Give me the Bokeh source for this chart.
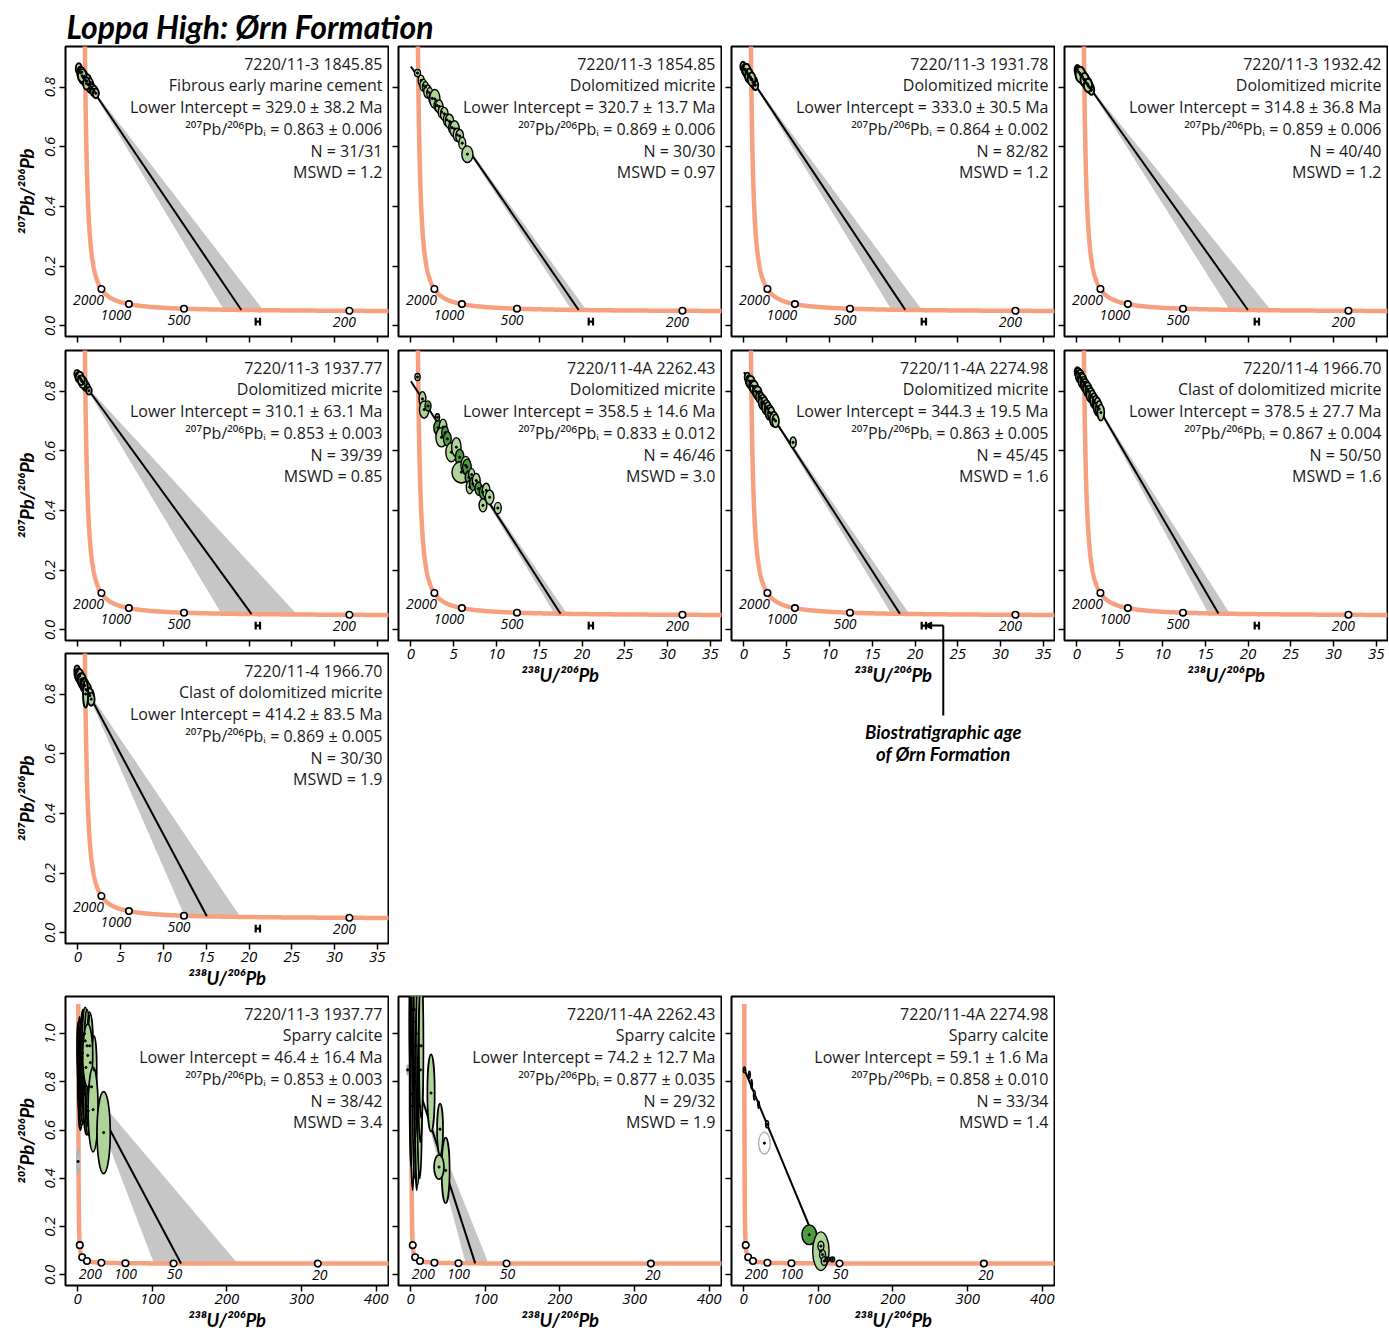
import numpy as np
from bokeh.plotting import figure
from bokeh.layouts import row, column
from bokeh.models import FixedTicker, PrintfTickFormatter, Range1d, Arrow, NormalHead, ColumnDataSource
from bokeh.core.properties import value
from bokeh.embed import file_html
from bokeh.resources import INLINE

# ---------------- constants of the Tera-Wasserburg concordia ----------------
L238 = 1.55125e-4   # 1/Ma
L235 = 9.8485e-4    # 1/Ma
U_RATIO = 137.818

def tw_x(t):
    t = np.asarray(t, dtype=float)
    return 1.0 / (np.exp(L238 * t) - 1.0)

def tw_y(t):
    t = np.asarray(t, dtype=float)
    return (np.exp(L235 * t) - 1.0) / (np.exp(L238 * t) - 1.0) / U_RATIO

# ---------------- text ----------------
TITLE = "Loppa High: Ørn Formation"
X_TITLE = "²³⁸U/²⁰⁶Pb"
Y_TITLE = "²⁰⁷Pb/²⁰⁶Pb"
BIO_TEXT = ["Biostratigraphic age", "of Ørn Formation"]

TOP_XTICKS = [0, 5, 10, 15, 20, 25, 30, 35]
TOP_YTICKS = [0.0, 0.2, 0.4, 0.6, 0.8]
BOT_XTICKS = [0, 100, 200, 300, 400]
BOT_YTICKS = [0.0, 0.2, 0.4, 0.6, 0.8, 1.0]

TOP_MARKER_AGES = [2000, 1000, 500, 200]
TOP_MARKER_LABELS = ["2000", "1000", "500", "200"]
BOT_MARKER_AGES = [2000, 1000, 500, 200, 100, 50, 20]
BOT_MARKER_LABELS = ["", "", "", "200", "100", "50", "20"]
BIO_AGE_RANGE = [296, 303]   # Ma, biostratigraphic age of the formation
BIO_Y = 0.014
CONCORDIA_AGE_MIN = 5
CONCORDIA_AGE_MAX = 5400

# ---------------- panel values ----------------
P1_INFO = ["7220/11-3 1845.85", "Fibrous early marine cement", "Lower Intercept = 329.0 ± 38.2 Ma",
           "²⁰⁷Pb/²⁰⁶Pbᵢ = 0.863 ± 0.006", "N = 31/31", "MSWD = 1.2"]
P1_AGE, P1_ERR, P1_PB0 = 329.0, 38.2, 0.863
P1_X = [0.10, 0.30, 0.45, 0.60, 0.75, 0.90, 1.05, 1.20, 1.35, 1.50, 1.70, 1.90, 2.10, 0.50, 1.00]
P1_Y = [0.862, 0.848, 0.850, 0.832, 0.836, 0.822, 0.820, 0.808, 0.810, 0.798, 0.794, 0.786, 0.779, 0.838, 0.812]
P1_SX = [0.35, 0.40, 0.38, 0.45, 0.35, 0.42, 0.50, 0.38, 0.42, 0.45, 0.38, 0.42, 0.35, 0.50, 0.38]
P1_SY = [0.018, 0.020, 0.016, 0.022, 0.018, 0.020, 0.024, 0.018, 0.020, 0.018, 0.016, 0.018, 0.016, 0.022, 0.020]

P2_INFO = ["7220/11-3 1854.85", "Dolomitized micrite", "Lower Intercept = 320.7 ± 13.7 Ma",
           "²⁰⁷Pb/²⁰⁶Pbᵢ = 0.869 ± 0.006", "N = 30/30", "MSWD = 0.97"]
P2_AGE, P2_ERR, P2_PB0 = 320.7, 13.7, 0.869
P2_X = [0.77, 1.20, 1.45, 1.70, 1.95, 2.20, 2.50, 2.80, 3.05, 3.30, 3.60, 3.90, 4.20, 4.50, 4.80, 5.10, 5.40, 5.70, 6.00, 6.60]
P2_Y = [0.847, 0.822, 0.806, 0.800, 0.785, 0.780, 0.762, 0.760, 0.738, 0.735, 0.716, 0.710, 0.690, 0.685, 0.664, 0.660, 0.640, 0.636, 0.612, 0.575]
P2_SX = [0.35, 0.35, 0.40, 0.35, 0.45, 0.35, 0.40, 0.60, 0.35, 0.45, 0.40, 0.45, 0.40, 0.50, 0.40, 0.55, 0.45, 0.45, 0.40, 0.65]
P2_SY = [0.012, 0.018, 0.020, 0.018, 0.022, 0.018, 0.020, 0.032, 0.018, 0.022, 0.020, 0.022, 0.020, 0.024, 0.020, 0.027, 0.022, 0.022, 0.020, 0.028]

P3_INFO = ["7220/11-3 1931.78", "Dolomitized micrite", "Lower Intercept = 333.0 ± 30.5 Ma",
           "²⁰⁷Pb/²⁰⁶Pbᵢ = 0.864 ± 0.002", "N = 82/82", "MSWD = 1.2"]
P3_AGE, P3_ERR, P3_PB0 = 333.0, 30.5, 0.864
P3_X = [-0.10, 0.05, 0.15, 0.25, 0.35, 0.45, 0.55, 0.65, 0.75, 0.85, 0.95, 1.05, 1.15, 1.25, 1.35, 0.30, 0.60, 0.90]
P3_Y = [0.869, 0.860, 0.859, 0.851, 0.850, 0.843, 0.842, 0.834, 0.833, 0.825, 0.824, 0.816, 0.817, 0.808, 0.806, 0.856, 0.838, 0.827]
P3_SX = [0.32, 0.25, 0.40, 0.32, 0.40, 0.32, 0.45, 0.32, 0.40, 0.32, 0.40, 0.32, 0.40, 0.32, 0.32, 0.45, 0.45, 0.45]
P3_SY = [0.016, 0.013, 0.019, 0.016, 0.019, 0.016, 0.022, 0.016, 0.019, 0.016, 0.019, 0.016, 0.019, 0.016, 0.016, 0.022, 0.024, 0.022]

P4_INFO = ["7220/11-3 1932.42", "Dolomitized micrite", "Lower Intercept = 314.8 ± 36.8 Ma",
           "²⁰⁷Pb/²⁰⁶Pbᵢ = 0.859 ± 0.006", "N = 40/40", "MSWD = 1.2"]
P4_AGE, P4_ERR, P4_PB0 = 314.8, 36.8, 0.859
P4_X = [0.05, 0.20, 0.35, 0.50, 0.65, 0.80, 0.95, 1.10, 1.25, 1.40, 1.55, 1.70, 0.40, 0.90, 1.30]
P4_Y = [0.858, 0.850, 0.846, 0.838, 0.834, 0.826, 0.822, 0.814, 0.810, 0.801, 0.797, 0.790, 0.842, 0.825, 0.806]
P4_SX = [0.32, 0.40, 0.48, 0.40, 0.48, 0.40, 0.48, 0.40, 0.48, 0.40, 0.40, 0.32, 0.55, 0.48, 0.48]
P4_SY = [0.016, 0.019, 0.022, 0.019, 0.024, 0.019, 0.022, 0.019, 0.022, 0.019, 0.019, 0.016, 0.026, 0.022, 0.022]

P5_INFO = ["7220/11-3 1937.77", "Dolomitized micrite", "Lower Intercept = 310.1 ± 63.1 Ma",
           "²⁰⁷Pb/²⁰⁶Pbᵢ = 0.853 ± 0.003", "N = 39/39", "MSWD = 0.85"]
P5_AGE, P5_ERR, P5_PB0 = 310.1, 63.1, 0.853
P5_X = [-0.10, 0.10, 0.30, 0.50, 0.70, 0.90, 1.10, 1.30, 0.20, 0.60, 0.40]
P5_Y = [0.858, 0.848, 0.842, 0.832, 0.826, 0.817, 0.811, 0.801, 0.846, 0.829, 0.836]
P5_SX = [0.32, 0.40, 0.32, 0.40, 0.32, 0.40, 0.32, 0.32, 0.45, 0.45, 0.40]
P5_SY = [0.013, 0.016, 0.013, 0.016, 0.013, 0.016, 0.013, 0.013, 0.019, 0.019, 0.016]

P6_INFO = ["7220/11-4A 2262.43", "Dolomitized micrite", "Lower Intercept = 358.5 ± 14.6 Ma",
           "²⁰⁷Pb/²⁰⁶Pbᵢ = 0.833 ± 0.012", "N = 46/46", "MSWD = 3.0"]
P6_AGE, P6_ERR, P6_PB0 = 358.5, 14.6, 0.833
P6_X = [0.77, 1.35, 1.55, 2.00, 3.10, 3.18, 3.76, 3.57, 4.00, 4.26, 4.73, 5.31, 5.70, 5.90, 6.40, 6.55,
        6.80, 6.87, 7.10, 7.25, 7.64, 7.90, 8.40, 8.80, 9.20, 8.42, 10.16]
P6_Y = [0.847, 0.774, 0.738, 0.750, 0.712, 0.677, 0.679, 0.645, 0.660, 0.640, 0.595, 0.612, 0.578, 0.528, 0.551, 0.545,
        0.511, 0.478, 0.520, 0.489, 0.500, 0.473, 0.461, 0.467, 0.444, 0.417, 0.408]
P6_SX = [0.30, 0.40, 0.55, 0.35, 0.25, 0.50, 0.45, 0.65, 0.40, 0.45, 0.65, 0.55, 0.50, 1.10, 0.55, 0.50,
         0.45, 0.40, 0.35, 0.40, 0.45, 0.40, 0.40, 0.45, 0.50, 0.45, 0.40]
P6_SY = [0.012, 0.024, 0.029, 0.017, 0.012, 0.024, 0.027, 0.032, 0.022, 0.024, 0.032, 0.032, 0.027, 0.036, 0.030, 0.027,
         0.022, 0.022, 0.020, 0.022, 0.024, 0.022, 0.022, 0.024, 0.024, 0.022, 0.019]
P6_DARK = [3, 5, 8, 9, 12, 15, 16, 19, 21, 22]

P7_INFO = ["7220/11-4A 2274.98", "Dolomitized micrite", "Lower Intercept = 344.3 ± 19.5 Ma",
           "²⁰⁷Pb/²⁰⁶Pbᵢ = 0.863 ± 0.005", "N = 45/45", "MSWD = 1.6"]
P7_AGE, P7_ERR, P7_PB0 = 344.3, 19.5, 0.863
P7_X = [0.40, 0.60, 0.80, 1.00, 1.20, 1.40, 1.60, 1.80, 2.00, 2.20, 2.40, 2.60, 2.80, 3.00, 3.20, 3.50, 3.70, 5.75]
P7_Y = [0.846, 0.834, 0.829, 0.817, 0.812, 0.799, 0.794, 0.781, 0.776, 0.763, 0.758, 0.746, 0.741, 0.728, 0.724, 0.706, 0.700, 0.628]
P7_SX = [0.32, 0.40, 0.48, 0.40, 0.48, 0.40, 0.48, 0.40, 0.32, 0.48, 0.40, 0.48, 0.40, 0.48, 0.40, 0.48, 0.40, 0.35]
P7_SY = [0.016, 0.019, 0.022, 0.019, 0.022, 0.019, 0.022, 0.019, 0.019, 0.025, 0.022, 0.025, 0.022, 0.025, 0.022, 0.025, 0.022, 0.018]

P8_INFO = ["7220/11-4 1966.70", "Clast of dolomitized micrite", "Lower Intercept = 378.5 ± 27.7 Ma",
           "²⁰⁷Pb/²⁰⁶Pbᵢ = 0.867 ± 0.004", "N = 50/50", "MSWD = 1.6"]
P8_AGE, P8_ERR, P8_PB0 = 378.5, 27.7, 0.867
P8_X = [0.05, 0.20, 0.35, 0.50, 0.65, 0.80, 0.95, 1.10, 1.25, 1.40, 1.60, 1.80, 2.00, 2.20, 2.40, 2.60, 2.80]
P8_Y = [0.864, 0.858, 0.849, 0.843, 0.834, 0.829, 0.819, 0.814, 0.805, 0.799, 0.787, 0.780, 0.768, 0.760, 0.748, 0.740, 0.728]
P8_SX = [0.32, 0.40, 0.48, 0.40, 0.48, 0.40, 0.48, 0.40, 0.48, 0.40, 0.48, 0.40, 0.45, 0.40, 0.45, 0.40, 0.40]
P8_SY = [0.016, 0.019, 0.022, 0.019, 0.024, 0.019, 0.022, 0.019, 0.024, 0.019, 0.024, 0.022, 0.025, 0.025, 0.030, 0.027, 0.027]

P9_INFO = ["7220/11-4 1966.70", "Clast of dolomitized micrite", "Lower Intercept = 414.2 ± 83.5 Ma",
           "²⁰⁷Pb/²⁰⁶Pbᵢ = 0.869 ± 0.005", "N = 30/30", "MSWD = 1.9"]
P9_AGE, P9_ERR, P9_PB0 = 414.2, 83.5, 0.869
P9_X = [-0.10, 0.05, 0.20, 0.35, 0.50, 0.65, 0.80, 0.95, 1.10, 1.25, 1.40, 1.55, 0.90]
P9_Y = [0.876, 0.864, 0.860, 0.848, 0.844, 0.832, 0.828, 0.815, 0.812, 0.799, 0.795, 0.783, 0.800]
P9_SX = [0.32, 0.40, 0.45, 0.40, 0.45, 0.40, 0.45, 0.40, 0.45, 0.40, 0.45, 0.40, 0.30]
P9_SY = [0.020, 0.022, 0.024, 0.022, 0.026, 0.022, 0.024, 0.022, 0.026, 0.022, 0.024, 0.022, 0.045]

P10_INFO = ["7220/11-3 1937.77", "Sparry calcite", "Lower Intercept = 46.4 ± 16.4 Ma",
            "²⁰⁷Pb/²⁰⁶Pbᵢ = 0.853 ± 0.003", "N = 38/42", "MSWD = 3.4"]
P10_AGE, P10_ERR, P10_PB0 = 46.4, 16.4, 0.853
P10_X = [0.5, 1.0, 1.5, 2.0, 2.5, 3.0, 3.5, 4.0, 4.5, 5.0, 6.0, 6.5, 7.0, 8.0, 9.0, 9.5, 10.0, 11.0, 12.0,
         12.5, 14.0, 15.0, 16.0, 17.0, 18.5, 22.0, 13.4, 20.6, 34.7]
P10_Y = [0.47, 0.95, 0.80, 0.88, 0.95, 0.80, 0.70, 0.84, 0.92, 0.72, 0.92, 0.78, 0.98, 0.80, 1.00, 0.75, 0.97,
         0.86, 0.70, 0.95, 0.68, 0.78, 0.95, 0.88, 0.78, 0.85, 0.91, 0.685, 0.59]
P10_SX = [1.5, 2.0, 1.5, 2.5, 2.0, 2.5, 2.5, 3.0, 2.5, 3.0, 3.0, 3.0, 3.0, 3.5, 3.0, 3.0, 4.0, 3.5, 4.0,
          3.5, 3.5, 4.0, 3.5, 4.0, 4.0, 3.5, 6.7, 6.7, 8.9]
P10_SY = [0.05, 0.10, 0.12, 0.09, 0.12, 0.10, 0.10, 0.10, 0.14, 0.10, 0.13, 0.15, 0.12, 0.12, 0.10, 0.13, 0.14,
          0.16, 0.12, 0.15, 0.10, 0.17, 0.14, 0.20, 0.15, 0.14, 0.13, 0.175, 0.17]
P10_REJECTED = [0]

P11_INFO = ["7220/11-4A 2262.43", "Sparry calcite", "Lower Intercept = 74.2 ± 12.7 Ma",
            "²⁰⁷Pb/²⁰⁶Pbᵢ = 0.877 ± 0.035", "N = 29/32", "MSWD = 1.9"]
P11_AGE, P11_ERR, P11_PB0 = 74.2, 12.7, 0.877
P11_X = [-4.0, 3.5, 7.5, 11.5, 0.5, 1.5, 2.0, 2.5, 4.5, 5.5, 6.5, 8.0, 9.0, 10.0, 12.0, 13.0, 14.0,
         27.2, 39.3, 46.8, 37.9]
P11_Y = [0.85, 1.05, 1.00, 0.95, 0.75, 0.95, 1.10, 0.70, 1.10, 0.80, 0.95, 0.65, 0.75, 0.90, 0.70, 0.85, 0.95,
         0.754, 0.604, 0.433, 0.447]
P11_SX = [1.0, 5.5, 5.5, 5.0, 2.0, 2.5, 2.5, 2.5, 3.0, 3.0, 2.5, 2.5, 3.5, 3.0, 3.0, 3.0, 3.0,
          4.9, 4.0, 5.3, 6.7]
P11_SY = [0.02, 0.35, 0.30, 0.32, 0.30, 0.35, 0.20, 0.35, 0.20, 0.40, 0.40, 0.30, 0.38, 0.35, 0.30, 0.30, 0.30,
          0.16, 0.106, 0.136, 0.05]
P11_REJECTED = [0]

P12_INFO = ["7220/11-4A 2274.98", "Sparry calcite", "Lower Intercept = 59.1 ± 1.6 Ma",
            "²⁰⁷Pb/²⁰⁶Pbᵢ = 0.858 ± 0.010", "N = 33/34", "MSWD = 1.4"]
P12_AGE, P12_ERR, P12_PB0 = 59.1, 1.6, 0.858
P12_X = [0.9, 7.6, 10.5, 14.3, 20.0, 31.3, 27.7, 87.8, 103.4, 103.4, 105.6, 107.8, 112.0, 118.9]
P12_Y = [0.850, 0.830, 0.790, 0.745, 0.705, 0.624, 0.546, 0.166, 0.098, 0.119, 0.084, 0.057, 0.064, 0.064]
P12_SX = [1.5, 1.2, 1.0, 1.2, 1.0, 2.0, 7.8, 9.8, 11.0, 4.0, 4.0, 4.0, 3.0, 3.0]
P12_SY = [0.012, 0.015, 0.020, 0.020, 0.015, 0.015, 0.045, 0.041, 0.080, 0.020, 0.020, 0.018, 0.010, 0.010]
P12_REJECTED = [6]
P12_DARK = [7]

# ---------------- styling ----------------
FW = 323
FH = 290
FH4 = 289
TOP_XR = (-1.45, 36.3)
TOP_YR = (-0.036, 0.936)
BOT_XR = (-16.4, 416.5)
BOT_YR = (-0.0444, 1.1544)
CONC_COLOR = "#f7a080"
BAND_COLOR = "#c6c6c6"
GREEN = "#aed49a"
DARK_GREEN = "#4f9a40"
INFO_FONT = "Open Sans"
TICK_FONT = "Open Sans"
TITLE_FONT = "Lato"
INFO_OFFSETS = [17, 38, 60, 82, 104, 125]
TOP_LABEL_DX = [-13, -13, -5, -5]
BOT_LABEL_DX = [0, 0, 0, -11, 0, 1, 2]
LABEL_DY = 11


def style_axes(p, xticks, yticks, show_x, show_y):
    p.grid.visible = False
    p.outline_line_color = "black"
    p.outline_line_width = 2
    p.outline_line_alpha = 1
    for ax in (p.xaxis[0], p.yaxis[0]):
        ax.axis_line_color = None
        ax.major_tick_in = 0
        ax.major_tick_out = 6
        ax.major_tick_line_width = 1.5
        ax.major_tick_line_color = "black"
        ax.minor_tick_line_color = None
        ax.major_label_text_font = TICK_FONT
        ax.major_label_text_font_style = "italic"
        ax.major_label_text_font_size = "15px"
        ax.major_label_text_color = "black"
        ax.axis_label_text_font = TITLE_FONT
        ax.axis_label_text_font_style = "bold italic"
        ax.axis_label_text_font_size = "18.5px"
        ax.axis_label_text_color = "black"
    p.xaxis.ticker = FixedTicker(ticks=xticks)
    p.yaxis.ticker = FixedTicker(ticks=yticks)
    p.yaxis.formatter = PrintfTickFormatter(format="%.1f")
    p.yaxis.major_label_orientation = "vertical"
    if show_x:
        p.xaxis.major_label_standoff = 2
        p.xaxis.axis_label = X_TITLE
        p.xaxis.axis_label_standoff = 2
    else:
        p.xaxis.major_label_text_color = None
        p.xaxis.major_label_standoff = 0
    if show_y:
        p.yaxis.major_label_standoff = 4
        p.yaxis.axis_label = Y_TITLE
        p.yaxis.axis_label_standoff = 5
    else:
        p.yaxis.major_label_text_color = None
        p.yaxis.major_label_standoff = 0


def make_panel(info, age, err, pb0, xs, ys, sxs, sys_, kind, show_x, show_y, bottom,
               dark=(), rejected=(), lw=1.4):
    top = kind == "top"
    xr = TOP_XR if top else BOT_XR
    yr = TOP_YR if top else BOT_YR
    fh = FH if top else FH4
    left = 65 if show_y else 9
    p = figure(frame_width=FW, frame_height=fh, x_range=Range1d(*xr), y_range=Range1d(*yr),
               min_border_left=left, min_border_right=1, min_border_top=1, min_border_bottom=bottom,
               toolbar_location=None, output_backend="svg",
               background_fill_color="white", border_fill_color="white")
    style_axes(p, TOP_XTICKS if top else BOT_XTICKS, TOP_YTICKS if top else BOT_YTICKS, show_x, show_y)

    xs = np.array(xs, dtype=float)
    ys = np.array(ys, dtype=float)
    keep = np.array([i not in rejected for i in range(len(xs))])

    # discordia line and its error envelope
    xt, yt = float(tw_x(age)), float(tw_y(age))
    slope = (yt - pb0) / xt
    xc = float(xs[keep].mean())
    yc = pb0 + slope * xc
    xa, ya = float(tw_x(age + err)), float(tw_y(age + err))
    xb, yb = float(tw_x(age - err)), float(tw_y(age - err))
    p.patch(x=[xc, xa, xb], y=[yc, ya, yb], fill_color=BAND_COLOR, line_color=None)

    # concordia
    ages = np.geomspace(CONCORDIA_AGE_MIN, CONCORDIA_AGE_MAX, 900)
    p.line(tw_x(ages), tw_y(ages), line_color=CONC_COLOR, line_width=4.5)

    p.line([0, xt], [pb0, yt], line_color="black", line_width=2)

    # data ellipses
    fills = []
    lines = []
    for i in range(len(xs)):
        if i in rejected:
            fills.append("white"); lines.append("#b0b0b0")
        elif i in dark:
            fills.append(DARK_GREEN); lines.append("black")
        else:
            fills.append(GREEN); lines.append("black")
    src = ColumnDataSource(dict(x=xs, y=ys, w=2 * np.array(sxs), h=2 * np.array(sys_), f=fills, l=lines))
    p.ellipse("x", "y", width="w", height="h", source=src, fill_color="f", line_color="l", line_width=lw)
    p.scatter("x", "y", source=src, size=2.2, color="black")

    # concordia age markers
    m_ages = TOP_MARKER_AGES if top else BOT_MARKER_AGES
    m_labels = TOP_MARKER_LABELS if top else BOT_MARKER_LABELS
    m_dx = TOP_LABEL_DX if top else BOT_LABEL_DX
    mx, my = tw_x(m_ages), tw_y(m_ages)
    p.scatter(mx, my, size=6.5, marker="circle", fill_color="white", line_color="black", line_width=1.6)
    idx = [i for i, s in enumerate(m_labels) if s]
    p.text(x=[mx[i] for i in idx], y=[my[i] for i in idx], text=[m_labels[i] for i in idx],
           x_offset=[m_dx[i] for i in idx], y_offset=LABEL_DY,
           text_align="center", text_baseline="middle", text_font=value(TICK_FONT),
           text_font_style="italic", text_font_size="14px", text_color="black")

    # biostratigraphic age bracket
    if top:
        bx = tw_x(BIO_AGE_RANGE)
        hh = 0.013
        p.segment(x0=[bx[0], bx[1], bx[0]], y0=[BIO_Y - hh, BIO_Y - hh, BIO_Y],
                  x1=[bx[0], bx[1], bx[1]], y1=[BIO_Y + hh, BIO_Y + hh, BIO_Y],
                  line_color="black", line_width=2.2)

    # information text
    tx = xr[1] - 6 * (xr[1] - xr[0]) / FW
    ty = [yr[1] - o * (yr[1] - yr[0]) / fh for o in INFO_OFFSETS]
    p.text(x=[tx] * len(info), y=ty, text=info, text_align="right", text_baseline="middle",
           text_font=value(INFO_FONT), text_font_size="16px", text_color="#1a1a1a")
    return p


p1 = make_panel(P1_INFO, P1_AGE, P1_ERR, P1_PB0, P1_X, P1_Y, P1_SX, P1_SY, "top", False, True, 13, lw=1.9)
p2 = make_panel(P2_INFO, P2_AGE, P2_ERR, P2_PB0, P2_X, P2_Y, P2_SX, P2_SY, "top", False, False, 13)
p3 = make_panel(P3_INFO, P3_AGE, P3_ERR, P3_PB0, P3_X, P3_Y, P3_SX, P3_SY, "top", False, False, 13, lw=1.9)
p4 = make_panel(P4_INFO, P4_AGE, P4_ERR, P4_PB0, P4_X, P4_Y, P4_SX, P4_SY, "top", False, False, 13, lw=1.9)
p5 = make_panel(P5_INFO, P5_AGE, P5_ERR, P5_PB0, P5_X, P5_Y, P5_SX, P5_SY, "top", False, True, 12, lw=1.9)
p6 = make_panel(P6_INFO, P6_AGE, P6_ERR, P6_PB0, P6_X, P6_Y, P6_SX, P6_SY, "top", True, False, 52, dark=P6_DARK)
p7 = make_panel(P7_INFO, P7_AGE, P7_ERR, P7_PB0, P7_X, P7_Y, P7_SX, P7_SY, "top", True, False, 52, lw=1.7)
p8 = make_panel(P8_INFO, P8_AGE, P8_ERR, P8_PB0, P8_X, P8_Y, P8_SX, P8_SY, "top", True, False, 52, lw=1.7)
p9 = make_panel(P9_INFO, P9_AGE, P9_ERR, P9_PB0, P9_X, P9_Y, P9_SX, P9_SY, "top", True, True, 52, lw=1.9)
p10 = make_panel(P10_INFO, P10_AGE, P10_ERR, P10_PB0, P10_X, P10_Y, P10_SX, P10_SY, "bottom", True, True, 45,
                 rejected=P10_REJECTED, lw=1.7)
p11 = make_panel(P11_INFO, P11_AGE, P11_ERR, P11_PB0, P11_X, P11_Y, P11_SX, P11_SY, "bottom", True, False, 45,
                 rejected=P11_REJECTED, lw=1.7)
p12 = make_panel(P12_INFO, P12_AGE, P12_ERR, P12_PB0, P12_X, P12_Y, P12_SX, P12_SY, "bottom", True, False, 45,
                 dark=P12_DARK, rejected=P12_REJECTED)

# note with arrow pointing at the biostratigraphic age (overlaid below panel 7)
NOTE_H = 152
NOTE_SHIFT = 77
note = figure(frame_width=FW, frame_height=NOTE_H, x_range=p7.x_range, y_range=Range1d(0, NOTE_H),
              min_border_left=9, min_border_right=1, min_border_top=0, min_border_bottom=0,
              toolbar_location=None, output_backend="svg", x_axis_location=None, y_axis_location=None,
              background_fill_color=None, border_fill_color=None, margin=(-NOTE_SHIFT, 0, 0, 0))
note.outline_line_color = None
note.grid.visible = False
bx7 = tw_x(BIO_AGE_RANGE)
arrow_x = 23.3
arrow_top = NOTE_H - 10
note.segment(x0=[arrow_x], y0=[arrow_top], x1=[arrow_x], y1=[52], line_color="black", line_width=2)
note.add_layout(Arrow(end=NormalHead(size=7, fill_color="black", line_color="black"),
                      x_start=arrow_x, y_start=arrow_top, x_end=float(bx7[1]) + 0.35, y_end=arrow_top,
                      line_color="black", line_width=2))
note.text(x=[arrow_x, arrow_x], y=[36, 14], text=BIO_TEXT, text_align="center", text_baseline="middle",
          text_font=value(TITLE_FONT), text_font_style="bold italic", text_font_size="18.5px",
          text_color="black")

# title
tfig = figure(width=720, height=45, x_range=Range1d(0, 720), y_range=Range1d(0, 45), min_border=0,
              toolbar_location=None, output_backend="svg", x_axis_location=None, y_axis_location=None)
tfig.outline_line_color = None
tfig.grid.visible = False
tfig.text(x=[66], y=[19], text=[TITLE], text_font=value(TITLE_FONT), text_font_style="bold italic",
          text_font_size="32px", text_baseline="alphabetic", text_color="black")

layout = column(
    tfig,
    row(column(p1, p5, p9), column(p2, p6), column(p3, p7, note), column(p4, p8)),
    row(p10, p11, p12),
)

open("out.html", "w").write(file_html(layout, INLINE))
